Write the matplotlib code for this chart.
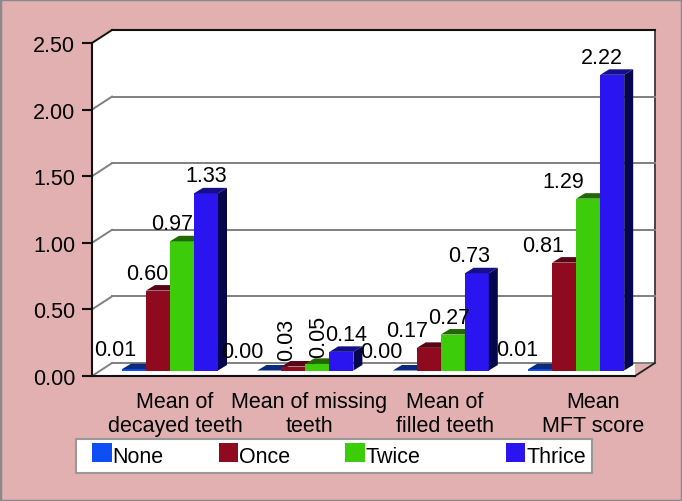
import matplotlib
matplotlib.use("Agg")
import matplotlib.pyplot as plt
from matplotlib.patches import Polygon, Rectangle
from matplotlib.legend_handler import HandlerBase
from matplotlib.transforms import ScaledTranslation, blended_transform_factory

categories = ["Mean of\ndecayed teeth", "Mean of missing\nteeth", "Mean of\nfilled teeth", "Mean\nMFT score"]
series_names = ["None", "Once", "Twice", "Thrice"]
none_values = [0.01, 0.00, 0.00, 0.01]
once_values = [0.60, 0.03, 0.17, 0.81]
twice_values = [0.97, 0.05, 0.27, 1.29]
thrice_values = [1.33, 0.14, 0.73, 2.22]
all_values = [none_values, once_values, twice_values, thrice_values]
value_labels = [["0.01", "0.00", "0.00", "0.01"], ["0.60", "0.03", "0.17", "0.81"],
                ["0.97", "0.05", "0.27", "1.29"], ["1.33", "0.14", "0.73", "2.22"]]
yticks = [0, 0.5, 1.0, 1.5, 2.0, 2.5]

front = ["#0D4FF5", "#8F0A1E", "#3CCC0A", "#2A14F0"]
top = ["#0A2A80", "#5A0515", "#226800", "#14108A"]
side = ["#06164F", "#45000C", "#175000", "#06064F"]
PINK = "#E2B0B1"

W, H = 682, 502
plt.rcParams["font.family"] = ["Liberation Sans", "DejaVu Sans"]
FS = 15.5
fig = plt.figure(figsize=(W / 100, H / 100), dpi=100, facecolor=PINK)
fig.add_artist(Rectangle((0, 0), 1, 1, transform=fig.transFigure, fill=False, ec="#8A8A8A", lw=2.5))

# Axes = front plane of the 3D box
L, R, T, B = 92, 635, 44, 377
ax = fig.add_axes([L / W, 1 - B / H, (R - L) / W, (B - T) / H])
ax.patch.set_visible(False)
group_step = 135.4  # px per category
bar_w = 24 / group_step
x0_px = 165
ax.set_xlim((L - x0_px) / group_step, (R - x0_px) / group_step)
ax.set_ylim(0, 2.5)


def px(dx, dy):
    return ScaledTranslation(dx / 100, -dy / 100, fig.dpi_scale_trans)


DEPTH = (20, -13)
wall_tr = ax.transData + px(*DEPTH)
xl, xr = ax.get_xlim()
# wall and floor
ax.add_patch(Polygon([(xl, 0), (xl, 2.5), (xr, 2.5), (xr, 0)], transform=wall_tr, fc="white", ec="none", zorder=0, clip_on=False))
ax.add_patch(Rectangle((xl, 0), xr - xl, 2.5, fc="white", ec="none", zorder=0, clip_on=False))
# floor + left wall corners
floor_right = [(R, B), (R + 20, B - 13)]
ax.add_patch(Polygon([(L, H - B), (L + 20, H - B + 13), (L + 20, H - 31), (L, H - T)],
                     transform=None, fc="white", ec="none", zorder=0, clip_on=False))
# outline of the box: right and bottom chamfer
ax.plot([xr, xr], [0, 2.5], transform=wall_tr, color="#3A3A3A", lw=1.3, clip_on=False, zorder=1)
ax.plot([xl, xr], [2.5, 2.5], transform=wall_tr, color="#111111", lw=1.5, clip_on=False, zorder=1)
ax.plot([xl, xl], [2.5, 2.5], zorder=1)
for v in yticks:
    is_top = v == 2.5
    col = "#111111" if is_top else "#808080"
    if not is_top:
        ax.plot([xl, xr], [v, v], transform=wall_tr, color=col, lw=1.4, clip_on=False, zorder=1)
    # diagonal from front plane to back wall
    ax.plot([L, L + 20], [H - (B - v * 133.2), H - (B - v * 133.2) + 13], transform=None,
            color=col, lw=1.4, clip_on=False, zorder=1)
# right-hand chamfer of the floor
ax.plot([R, R + 20], [H - B, H - B + 13], transform=None, color="#222222", lw=1.3, clip_on=False, zorder=1)
# cover the bottom-right triangle beyond the floor
ax.add_patch(Polygon([(R, H - B - 1), (R + 21, H - B + 13), (R + 21, H - B - 1)], transform=None,
                     fc=PINK, ec="none", zorder=0.5, clip_on=False))

# Bars: drawn in a mid-depth plane
BAR_OFF = (5, -5.5)
bar_tr = ax.transData + px(*BAR_OFF)
DX, DY = 9, -5.5
data_to_depth = ax.transData + px(BAR_OFF[0] + DX, BAR_OFF[1] + DY)
for s, vals in enumerate(all_values):
    for i, v in enumerate(vals):
        x = i + (s - 1.5) * bar_w - bar_w * 0.5 + bar_w * 0.5 - bar_w / 2 + bar_w / 2
        left, right = x - bar_w / 2, x + bar_w / 2
        ax.bar(x, v, width=bar_w, color=front[s], transform=bar_tr, zorder=3 + s + 5 * i, clip_on=False)
        # top and side faces expressed through display coordinates
        a = bar_tr.transform([(left, v), (right, v), (right, 0)])
        d = data_to_depth.transform([(left, v), (right, v), (right, 0)])
        ax.add_patch(Polygon([a[0], a[1], d[1], d[0]], transform=None, fc=top[s], ec="none", zorder=3 + s + 5 * i, clip_on=False))
        ax.add_patch(Polygon([a[1], a[2], d[2], d[1]], transform=None, fc=side[s], ec="none", zorder=3 + s + 5 * i, clip_on=False))

# Value labels (pixel offset of each label from its bar, rotated ones in group 2)
label_off = [[(-19, -2), (-27, -2), (-23, -2), (-23, -2)],
             [(-11, 0), (-7, 0), (-22, 0), (-21, 0)],
             [(-10, 0), (1, 0), (-4, 0), (-25, 0)],
             [(0, 0), (5, 0), (-8, 0), (-10, 0)]]
rot = [[0] * 4, [0, 90, 0, 0], [0, 90, 0, 0], [0] * 4]
for s, vals in enumerate(all_values):
    for i, v in enumerate(vals):
        x = i + (s - 1.5) * bar_w
        ox, oy = label_off[s][i]
        ax.text(x, v, value_labels[s][i], transform=ax.transData + px(BAR_OFF[0] + ox, BAR_OFF[1] - 7 + oy),
                ha="center", va="bottom" if not rot[s][i] else "bottom", rotation=rot[s][i], fontsize=FS, color="black",
                zorder=40, clip_on=False)

# axes furniture
for sp in ("top", "right"):
    ax.spines[sp].set_visible(False)
for sp in ("left", "bottom"):
    ax.spines[sp].set_color("#111111")
    ax.spines[sp].set_linewidth(1.5)
ax.spines["left"].set_zorder(2)
ax.set_yticks(yticks, [f"{v:.2f}" for v in yticks], fontsize=FS)
ax.tick_params(axis="y", length=7, width=1.5, color="#111111", pad=5)
label_px = [175, 309, 445, 593]
ax.set_xticks([(p - x0_px) / group_step for p in label_px], categories, fontsize=FS, linespacing=1.15)
ax.tick_params(axis="x", length=0, pad=11)


class SquareHandler(HandlerBase):
    def __init__(self, shift, extra):
        super().__init__()
        self.shift, self.extra = shift, extra

    def legend_artist(self, legend, orig_handle, fontsize, handlebox):
        size = 14
        handlebox.width += self.extra
        p = Rectangle((self.shift, (handlebox.height - size) / 2 + 1), size, size, fc=orig_handle.get_facecolor(), ec="none")
        handlebox.add_artist(p)
        return p


handles = [Rectangle((0, 0), 1, 1, fc=c) for c in front]
leg = fig.legend(handles, series_names, ncol=4, fontsize=FS,
                 loc="lower left", bbox_to_anchor=(76 / W, 1 - 474 / H), bbox_transform=fig.transFigure,
                 borderaxespad=0, borderpad=0.3, columnspacing=2.55, handletextpad=0.3, handlelength=0.65,
                 frameon=True, fancybox=False, framealpha=1, facecolor="white", edgecolor="#999999",
                 handler_map={handles[0]: SquareHandler(7, 7), handles[1]: SquareHandler(0, 0),
                              handles[2]: SquareHandler(0, 0), handles[3]: SquareHandler(22, 22)})
leg.get_frame().set_linewidth(1.5)

fig.savefig("out.png", dpi=100, facecolor=PINK)
